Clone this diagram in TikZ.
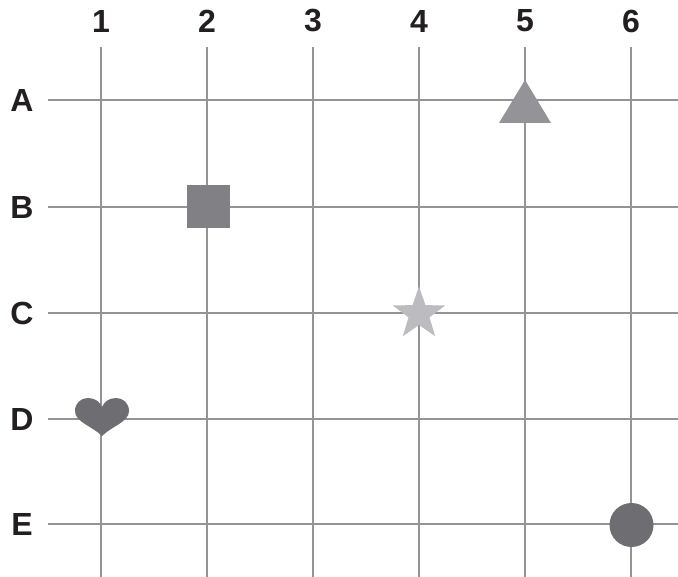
\documentclass[tikz,border=0pt]{standalone}
\usepackage{fontspec}
\setmainfont{Liberation Sans}
\definecolor{gridcol}{HTML}{939398}
\definecolor{txtcol}{HTML}{231F20}
\definecolor{trianglecol}{HTML}{939398}
\definecolor{squarecol}{HTML}{808085}
\definecolor{starcol}{HTML}{BCBCC0}
\definecolor{heartcol}{HTML}{6D6D72}
\definecolor{circlecol}{HTML}{6D6D72}
\begin{document}
\begin{tikzpicture}[x=1pt,y=-1pt,
  gridline/.style={draw=gridcol,line width=2pt},
  axislabel/.style={text=txtcol,font=\fontsize{32}{36}\selectfont\bfseries,inner sep=0pt}]
\useasboundingbox (0,0) rectangle (678,577);
\fill[white] (0,0) rectangle (678,577);
% vertical lines and column labels
\foreach \i/\x in {1/101,2/207,3/313,4/419,5/525,6/631}{
  \draw[gridline] (\x,47) -- (\x,577);
  \node[axislabel] (col\i) at (\x,21) {\i};
}
% horizontal lines and row labels
\foreach \r/\y in {A/100,B/207,C/313,D/419,E/524}{
  \draw[gridline] (48,\y) -- (678,\y);
  \node[axislabel] (row\r) at (22,\y) {\r};
}
% triangle at A5
\fill[trianglecol] (525,80) -- (551,123) -- (499,123) -- cycle;
% square at B2
\fill[squarecol] (187,185) rectangle (230,228);
% star at C4
\fill[starcol,shift={(419,314)}] (-90:27.5) -- (-54:11) -- (-18:27.5) -- (18:11) -- (54:27.5) -- (90:11) -- (126:27.5) -- (162:11) -- (198:27.5) -- (234:11) -- cycle;
% heart at D1
\fill[heartcol] (102,436) .. controls (92,426) and (75,422) .. (75,411)
  .. controls (75,403) and (81,398) .. (88,398)
  .. controls (95,398) and (100,402) .. (102,407)
  .. controls (104,402) and (109,398) .. (116,398)
  .. controls (123,398) and (129,403) .. (129,411)
  .. controls (129,422) and (112,426) .. (102,436) -- cycle;
% circle at E6
\fill[circlecol] (631.5,525) circle[radius=22];
\end{tikzpicture}
\end{document}
